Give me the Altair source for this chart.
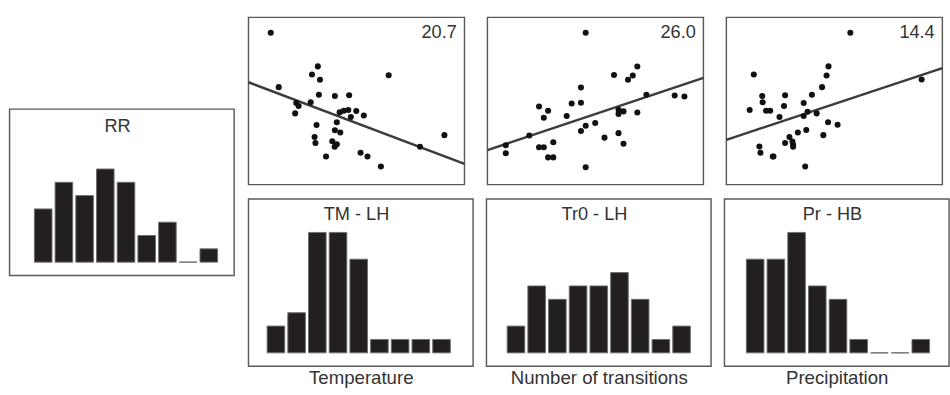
import altair as alt
import pandas as pd

# ---------------- data ----------------
rr_counts = [4, 6, 5, 7, 6, 2, 3, 0, 1]
tm_counts = [2, 3, 9, 9, 7, 1, 1, 1, 1]
tr_counts = [2, 5, 4, 5, 5, 6, 4, 1, 2]
pr_counts = [7, 7, 9, 5, 4, 1, 0, 0, 1]

hist_titles = ["RR", "TM - LH", "Tr0 - LH", "Pr - HB"]
x_titles = ["Temperature", "Number of transitions", "Precipitation"]
corr_labels = ["20.7", "26.0", "14.4"]

tm_x = [10.3, 14.0, 32.1, 29.4, 33.1, 64.9, 32.6, 40.0, 46.6, 22.1, 23.2, 28.8,
        21.6, 42.2, 44.1, 46.2, 49.9, 47.4, 53.4, 40.9, 31.5, 40.0, 42.5, 30.6,
        31.0, 38.8, 40.9, 39.9, 35.9, 51.9, 55.1, 61.3, 79.4, 90.7]
tm_y = [90.8, 58.3, 70.7, 65.8, 62.7, 65.4, 53.7, 53.0, 53.5, 48.8, 47.0, 49.3,
        42.6, 43.2, 44.2, 44.6, 44.0, 40.5, 41.3, 37.3, 35.6, 32.5, 31.2, 28.5,
        24.9, 26.0, 24.1, 22.6, 16.8, 19.1, 16.8, 10.9, 22.6, 29.6]

tr_x = [45.5, 69.4, 67.3, 65.1, 58.6, 43.3, 39.0, 43.3, 23.9, 28.1, 26.1, 36.7,
        73.6, 86.7, 91.2, 60.7, 63.0, 60.7, 69.4, 49.9, 45.5, 43.3, 54.2, 60.7,
        63.0, 19.4, 8.5, 8.5, 23.9, 26.1, 30.5, 28.1, 30.5, 45.5]
tr_y = [90.8, 70.6, 65.2, 62.7, 65.6, 58.1, 48.5, 49.0, 46.7, 44.2, 40.0, 41.0,
        53.8, 53.3, 52.7, 44.8, 43.8, 42.3, 43.1, 36.9, 35.2, 32.1, 28.1, 30.8,
        24.4, 29.4, 23.5, 18.8, 22.3, 22.3, 25.4, 16.3, 16.3, 10.4]

pr_x = [57.4, 12.7, 47.3, 46.4, 44.3, 90.4, 16.6, 16.8, 27.2, 39.6, 35.8, 26.7,
        10.8, 18.4, 20.3, 24.6, 37.6, 35.8, 41.8, 47.1, 51.5, 33.1, 37.0, 44.9,
        29.2, 27.2, 30.6, 30.9, 30.9, 15.3, 15.8, 21.5, 36.5, 21.8]
pr_y = [90.8, 65.8, 70.7, 65.2, 58.3, 62.9, 53.0, 49.3, 53.5, 53.7, 48.8, 47.0,
        44.6, 44.2, 44.2, 40.5, 43.6, 41.1, 42.6, 37.3, 35.8, 31.2, 32.7, 29.6,
        28.5, 24.9, 25.8, 23.9, 22.6, 22.8, 19.1, 16.8, 10.9, 16.8]

line_x = [0, 100]
tm_line = [61.2, 12.4]
tr_line = [20.6, 63.8]
pr_line = [26.8, 69.7]

# ---------------- styling ----------------
FONT = "Liberation Sans"
TXT = "#333333"
W = 226
WH = 235
H = 175
BOX = "#5a5a5a"

bins = list(range(9))
base = [0] * 9


def hist(counts, title, xtitle, align, height=H, title_y=22.5):
    df = pd.DataFrame({"bin": bins, "count": counts, "base": base})
    if xtitle is None:
        xaxis = None
    else:
        xaxis = alt.Axis(title=xtitle, labels=False, ticks=False, domain=False,
                         grid=False, titleFontSize=19.5, titleFont=FONT,
                         titleFontWeight="normal", titleColor=TXT, titlePadding=3)
    bars = alt.Chart(df).mark_bar(color="#231f20", stroke="#6e6e6e",
                                  strokeWidth=1).encode(
        x=alt.X("bin:O", axis=xaxis,
                scale=alt.Scale(paddingInner=0.15, paddingOuter=1, align=align)),
        y=alt.Y("count:Q", axis=None,
                scale=alt.Scale(domain=[-1, 11.5], nice=False, zero=False)),
        y2="base:Q",
    )
    ttl = alt.Chart(pd.DataFrame({"t": [title]})).mark_text(
        font=FONT, fontSize=19, color=TXT, baseline="alphabetic", align="center"
    ).encode(text="t:N", x=alt.value(W / 2), y=alt.value(title_y))
    return alt.layer(bars, ttl).properties(width=WH, height=height)


def scatter(xs, ys, line_y, label):
    df = pd.DataFrame({"x": xs, "y": ys})
    ldf = pd.DataFrame({"x": line_x, "y": line_y})
    xs_ = alt.Scale(domain=[0, 100], nice=False, zero=False, padding=0)
    ys_ = alt.Scale(domain=[0, 100], nice=False, zero=False, padding=0)
    pts = alt.Chart(df).mark_circle(size=40, color="#111111", opacity=1).encode(
        x=alt.X("x:Q", scale=xs_, axis=None),
        y=alt.Y("y:Q", scale=ys_, axis=None),
    )
    line = alt.Chart(ldf).mark_line(color="#3c3c3c", strokeWidth=2.6).encode(
        x=alt.X("x:Q", scale=xs_, axis=None),
        y=alt.Y("y:Q", scale=ys_, axis=None),
    )
    txt = alt.Chart(pd.DataFrame({"t": [label]})).mark_text(
        font=FONT, fontSize=19, color=TXT, align="right", baseline="alphabetic"
    ).encode(text="t:N", x=alt.value(W - 8), y=alt.value(22))
    return alt.layer(line, pts, txt).properties(width=W, height=H)


spacer = alt.Chart(pd.DataFrame({"a": [0]})).mark_point(opacity=0).encode(
    x=alt.X("a:Q", axis=None), y=alt.Y("a:Q", axis=None)
).properties(width=1, height=95, view=alt.ViewBackground(strokeOpacity=0))

rr = hist(rr_counts, hist_titles[0], None, 0.6, height=174, title_y=23.5)
h1 = hist(tm_counts, hist_titles[1], x_titles[0], 0.45)
h2 = hist(tr_counts, hist_titles[2], x_titles[1], 0.5)
h3 = hist(pr_counts, hist_titles[3], x_titles[2], 0.53)

s1 = scatter(tm_x, tm_y, tm_line, corr_labels[0])
s2 = scatter(tr_x, tr_y, tr_line, corr_labels[1])
s3 = scatter(pr_x, pr_y, pr_line, corr_labels[2])

left = alt.vconcat(spacer, rr, spacing=0)
top_row = alt.hconcat(s1, s2, s3, spacing=12)
bottom_row = alt.hconcat(h1, h2, h3, spacing=12)
right = alt.vconcat(top_row, bottom_row, spacing=13)

chart = alt.hconcat(left, right, spacing=8).properties(
    padding={"left": 7, "top": 8, "right": 0, "bottom": 0},
    background="white",
).configure(
    font=FONT,
    view=alt.ViewConfig(stroke=BOX, strokeWidth=1.5),
)

chart.save("out.html", embed_options={"renderer": "svg", "actions": False})
